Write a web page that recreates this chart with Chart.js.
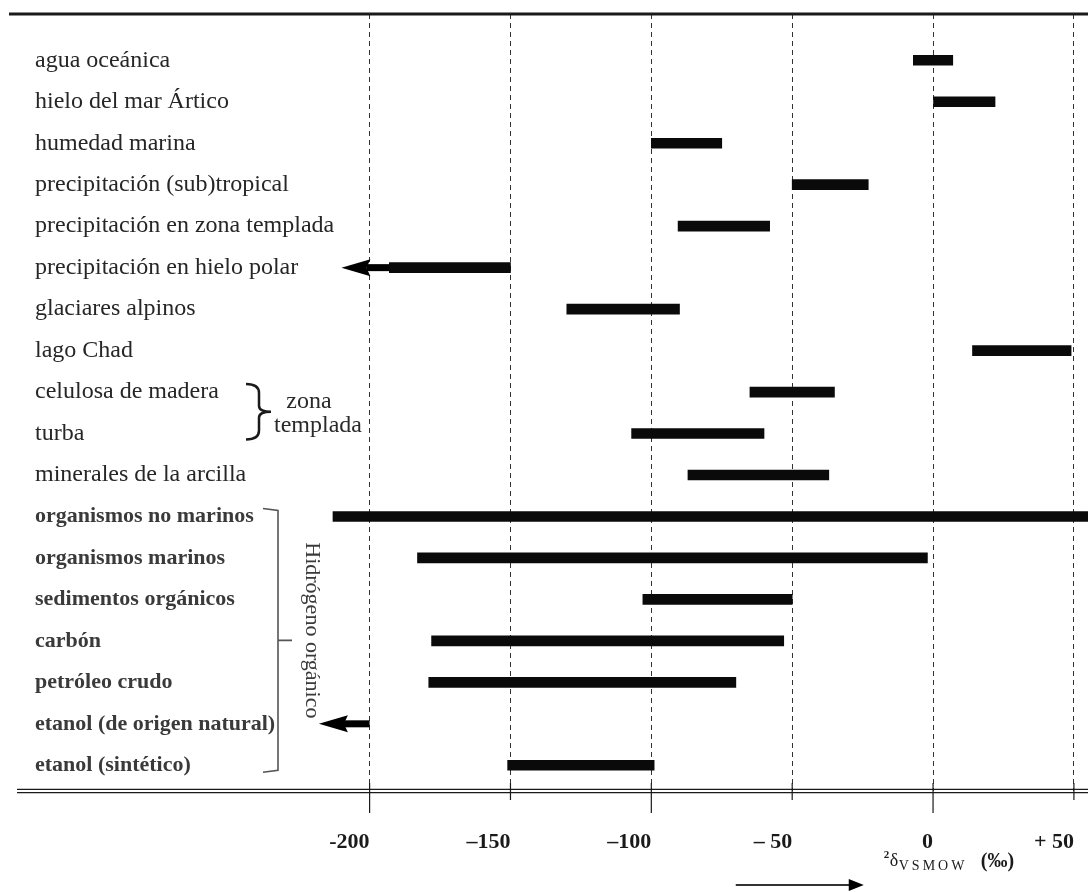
<!DOCTYPE html>
<html>
<head>
<meta charset="utf-8">
<script src="https://cdn.jsdelivr.net/npm/chart.js@4/dist/chart.umd.min.js"></script>
<style>
    html, body { margin: 0; padding: 0; background: #fff; }
</style>
</head>
<body>
<canvas id="myChart" width="1088" height="892"></canvas>
<script>
let rowLabels = [
    'agua oceánica',
    'hielo del mar Ártico',
    'humedad marina',
    'precipitación (sub)tropical',
    'precipitación en zona templada',
    'precipitación en hielo polar',
    'glaciares alpinos',
    'lago Chad',
    'celulosa de madera',
    'turba',
    'minerales de la arcilla',
    'organismos no marinos',
    'organismos marinos',
    'sedimentos orgánicos',
    'carbón',
    'petróleo crudo',
    'etanol (de origen natural)',
    'etanol (sintético)'
]
let barLow = [-7, 0, -100, -50, -90.5, -193, -130, 14, -65, -107, -87, -213, -183, -103, -178, -179, null, -151]
let barHigh = [7, 22, -75, -23, -58, -150, -90, 49, -35, -60, -37, 55, -2, -50, -53, -70, null, -99]

// rows that run off to the left, drawn as arrows
let arrowRows = [5, 16]
let arrowFrom = [-193, -200]
let arrowTo = [-210, -218]

let xTickValues = [-200, -150, -100, -50, 0, 50]
let xTickLabels = ['-200', '–150', '–100', '– 50', '0', '+ 50']
let majorTicks = [-200, -100, 0]

let serif = '"Liberation Serif", "Times New Roman", serif'

let barData = []
for (let i = 0; i < rowLabels.length; i++) {
    if (barLow[i] != null) barData.push({ y: i, x: [barLow[i], barHigh[i]] })
}

let extras = {
    id: 'extras',
    afterDraw(chart) {
        let ctx = chart.ctx
        let area = chart.chartArea
        let xs = chart.scales.x
        let ys = chart.scales.y
        ctx.save()

        // top and bottom frame lines
        ctx.strokeStyle = '#1a1a1a'
        ctx.lineWidth = 3
        ctx.beginPath()
        ctx.moveTo(area.left, area.top)
        ctx.lineTo(area.right, area.top)
        ctx.stroke()
        ctx.lineWidth = 1.3
        for (let d of [-1.6, 1.6]) {
            ctx.beginPath()
            ctx.moveTo(area.left + 8, area.bottom + d)
            ctx.lineTo(area.right, area.bottom + d)
            ctx.stroke()
        }

        // tick marks
        ctx.lineWidth = 1.2
        for (let v of xTickValues) {
            let px = xs.getPixelForValue(v)
            let len = majorTicks.includes(v) ? 22 : 9
            ctx.beginPath()
            ctx.moveTo(px, area.bottom - 8)
            ctx.lineTo(px, area.bottom + len)
            ctx.stroke()
        }

        // arrows
        ctx.fillStyle = '#000'
        for (let i = 0; i < arrowRows.length; i++) {
            let y = ys.getPixelForValue(arrowRows[i])
            let x0 = xs.getPixelForValue(arrowFrom[i])
            let x1 = xs.getPixelForValue(arrowTo[i])
            let base = x1 + 25
            ctx.fillRect(base, y - 3.5, x0 - base, 7)
            ctx.beginPath()
            ctx.moveTo(x1, y)
            ctx.lineTo(base + 4, y - 8.5)
            ctx.lineTo(base, y)
            ctx.lineTo(base + 4, y + 8.5)
            ctx.closePath()
            ctx.fill()
        }

        // brace for zona templada
        let t = ys.getPixelForValue(8) - 8
        let b = ys.getPixelForValue(9) + 6
        let m = (t + b) / 2
        let bx0 = area.left + 237
        let bx1 = area.left + 250
        ctx.strokeStyle = '#1a1a1a'
        ctx.lineWidth = 2.5
        ctx.beginPath()
        ctx.moveTo(bx0, t)
        ctx.quadraticCurveTo(bx1, t, bx1, t + 9)
        ctx.lineTo(bx1, m - 6)
        ctx.quadraticCurveTo(bx1, m, bx1 + 12, m)
        ctx.quadraticCurveTo(bx1, m, bx1, m + 6)
        ctx.lineTo(bx1, b - 9)
        ctx.quadraticCurveTo(bx1, b, bx0, b)
        ctx.stroke()
        ctx.fillStyle = '#2a2a2a'
        ctx.font = '24px ' + serif
        ctx.textAlign = 'center'
        ctx.textBaseline = 'middle'
        ctx.fillText('zona', area.left + 300, m - 10)
        ctx.fillText('templada', area.left + 309, m + 14)

        // bracket for hidrogeno organico
        let gt = ys.getPixelForValue(11) - 8
        let gb = ys.getPixelForValue(17) + 7
        let gm = (gt + gb) / 2
        let gx = area.left + 269
        ctx.strokeStyle = '#555'
        ctx.lineWidth = 1.6
        ctx.beginPath()
        ctx.moveTo(gx - 15, gt)
        ctx.lineTo(gx, gt + 2)
        ctx.lineTo(gx, gb - 2)
        ctx.lineTo(gx - 15, gb)
        ctx.moveTo(gx, gm)
        ctx.lineTo(gx + 14, gm)
        ctx.stroke()
        ctx.save()
        ctx.translate(gx + 34, gm - 10)
        ctx.rotate(Math.PI / 2)
        ctx.fillStyle = '#3a3a3a'
        ctx.font = '22px ' + serif
        ctx.fillText('Hidrógeno orgánico', 0, 0)
        ctx.restore()

        // axis title and arrow
        let tx = xs.getPixelForValue(-17.5)
        let ty = area.bottom + 75
        ctx.textAlign = 'left'
        ctx.textBaseline = 'alphabetic'
        ctx.fillStyle = '#1a1a1a'
        ctx.font = 'bold 11px ' + serif
        ctx.fillText('2', tx, ty - 8)
        ctx.font = '18px ' + serif
        ctx.fillText('δ', tx + 6, ty)
        ctx.font = '14px ' + serif
        ctx.letterSpacing = '3px'
        ctx.fillText('VSMOW', tx + 15, ty + 4)
        ctx.letterSpacing = '0px'
        ctx.font = 'bold 20px ' + serif
        ctx.fillText('(‰)', tx + 97, ty + 1)

        let ay = area.bottom + 94
        let ax1 = tx - 20
        ctx.strokeStyle = '#333'
        ctx.lineWidth = 2
        ctx.beginPath()
        ctx.moveTo(ax1 - 128, ay)
        ctx.lineTo(ax1 - 12, ay)
        ctx.stroke()
        ctx.fillStyle = '#000'
        ctx.beginPath()
        ctx.moveTo(ax1, ay)
        ctx.lineTo(ax1 - 15, ay - 6)
        ctx.lineTo(ax1 - 15, ay + 6)
        ctx.closePath()
        ctx.fill()

        ctx.restore()
    }
}

let ctx = document.getElementById('myChart').getContext('2d')
let myChart = new Chart(ctx, {
    type: 'bar',
    data: {
        datasets: [{
            data: barData,
            backgroundColor: '#0a0a0a',
            borderWidth: 0,
            borderSkipped: false,
            barThickness: 10
        }]
    },
    options: {
        responsive: false,
        animation: false,
        indexAxis: 'y',
        layout: { autoPadding: false, padding: { left: 9, right: 0, top: 14, bottom: 0 } },
        plugins: {
            legend: { display: false },
            tooltip: { enabled: false }
        },
        scales: {
            x: {
                type: 'linear',
                min: -328,
                max: 55,
                afterBuildTicks: (s) => { s.ticks = xTickValues.map(v => ({ value: v })) },
                afterFit: (s) => { s.height = 101; s.paddingLeft = 0; s.paddingRight = 0 },
                grid: { color: '#333', lineWidth: 1, drawTicks: false },
                border: { display: false, dash: [5, 4] },
                ticks: {
                    align: 'end',
                    padding: 38,
                    color: '#1a1a1a',
                    font: { family: serif, size: 22, weight: 'bold' },
                    callback: (v) => {
                        let k = xTickValues.indexOf(v)
                        return k < 0 ? '' : xTickLabels[k]
                    }
                }
            },
            y: {
                type: 'linear',
                reverse: true,
                offset: false,
                min: -1.116,
                max: 17.62,
                afterBuildTicks: (s) => { s.ticks = rowLabels.map((_, i) => ({ value: i })) },
                afterFit: (s) => { s.width = 0; s.paddingTop = 0; s.paddingBottom = 0 },
                grid: { display: false, drawTicks: false, offset: false },
                border: { display: false },
                ticks: {
                    mirror: true,
                    padding: 26,
                    color: (c) => c.index >= 11 ? '#3a3a3a' : '#262626',
                    font: (c) => c.index >= 11
                        ? { family: serif, size: 22, weight: 'bold' }
                        : { family: serif, size: 24 },
                    callback: (v) => rowLabels[v] || ''
                }
            }
        }
    },
    plugins: [extras]
})
</script>
</body>
</html>
